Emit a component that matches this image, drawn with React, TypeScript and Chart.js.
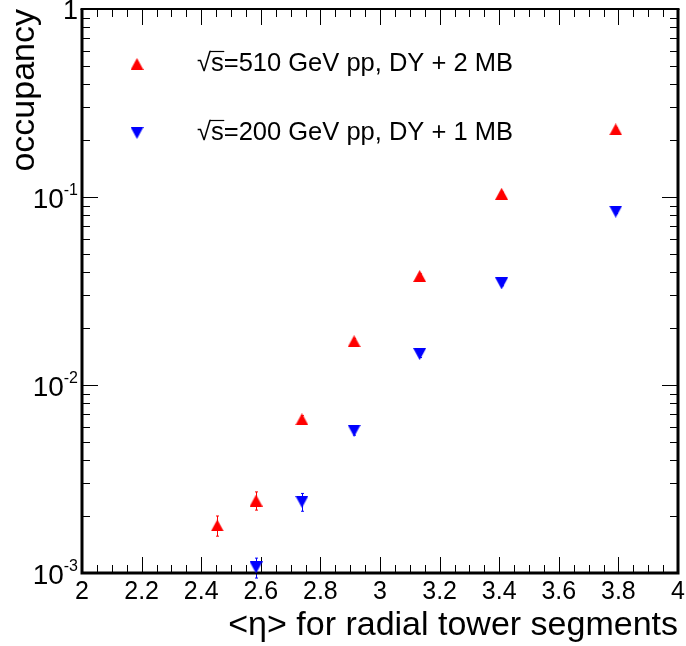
import React, { useEffect, useRef } from 'react';
import { Chart, registerables } from 'chart.js';

Chart.register(...registerables);

const FONT = '"Liberation Sans", Arial, Helvetica, sans-serif';

// ---- data ----
const redEta = [2.454, 2.584, 2.738, 2.913, 3.133, 3.408, 3.791];
const redOcc = [0.00179, 0.00243, 0.00657, 0.0171, 0.038, 0.104, 0.229];
const redErr = [0.00022, 0.00027, 0.0003, 0.0006, 0.001, 0.002, 0.004];

const blueEta = [2.584, 2.738, 2.913, 3.133, 3.408, 3.791];
const blueOcc = [0.00107, 0.00239, 0.00571, 0.0146, 0.0347, 0.0836];
const blueErr = [0.00013, 0.00026, 0.0003, 0.0006, 0.001, 0.002];

const seriesLabels = ['√s=510 GeV pp, DY + 2 MB', '√s=200 GeV pp, DY + 1 MB'];
const seriesColors = ['#ff0000', '#0000ff'];

const yDecades = [-3, -2, -1, 0];
const yMantissas = [2, 3, 4, 5, 6, 7, 8, 9];

const xTitle = '<η> for radial tower segments';
const yTitle = 'occupancy';

function makeTriangle(color: string, down: boolean): HTMLCanvasElement {
  const c = document.createElement('canvas');
  c.width = 13;
  c.height = 12;
  const g = c.getContext('2d')!;
  g.fillStyle = color;
  g.beginPath();
  if (down) {
    g.moveTo(0, 0);
    g.lineTo(13, 0);
    g.lineTo(6.5, 12);
  } else {
    g.moveTo(6.5, 0);
    g.lineTo(13, 12);
    g.lineTo(0, 12);
  }
  g.closePath();
  g.fill();
  return c;
}

const isMajorX = (v: number) => Math.abs(v * 5 - Math.round(v * 5)) < 1e-6;

const rootPlugin = {
  id: 'rootPlugin',
  beforeDatasetsDraw(chart: any) {
    const { ctx, chartArea: a, scales } = chart;
    const x = scales.x;
    const y = scales.y;
    ctx.save();

    // error bars
    chart.data.datasets.forEach((ds: any) => {
      ctx.strokeStyle = ds.errColor;
      ctx.lineWidth = 1;
      ds.data.forEach((p: any, i: number) => {
        const e = ds.errors[i];
        const px = Math.round(x.getPixelForValue(p.x)) + 0.5;
        const y1 = y.getPixelForValue(p.y + e);
        const y2 = y.getPixelForValue(Math.max(p.y - e, 1e-4));
        ctx.beginPath();
        ctx.moveTo(px, y1);
        ctx.lineTo(px, y2);
        ctx.moveTo(px - 1.5, y1);
        ctx.lineTo(px + 1.5, y1);
        ctx.moveTo(px - 1.5, y2);
        ctx.lineTo(px + 1.5, y2);
        ctx.stroke();
      });
    });

    // tick marks on all four sides (inward)
    ctx.strokeStyle = '#000';
    ctx.lineWidth = 1;
    ctx.beginPath();
    x.ticks.forEach((t: any) => {
      const px = Math.round(x.getPixelForValue(t.value)) + 0.5;
      const len = isMajorX(t.value) ? 16 : 8;
      ctx.moveTo(px, a.bottom);
      ctx.lineTo(px, a.bottom - len);
      ctx.moveTo(px, a.top);
      ctx.lineTo(px, a.top + len);
    });
    yDecades.forEach((d) => {
      const py = Math.round(y.getPixelForValue(Math.pow(10, d))) + 0.5;
      ctx.moveTo(a.left, py);
      ctx.lineTo(a.left + 16, py);
      ctx.moveTo(a.right, py);
      ctx.lineTo(a.right - 16, py);
      if (d < 0) {
        yMantissas.forEach((m) => {
          const pm = Math.round(y.getPixelForValue(m * Math.pow(10, d))) + 0.5;
          ctx.moveTo(a.left, pm);
          ctx.lineTo(a.left + 8, pm);
          ctx.moveTo(a.right, pm);
          ctx.lineTo(a.right - 8, pm);
        });
      }
    });
    ctx.stroke();

    // frame
    ctx.lineWidth = 3;
    ctx.beginPath();
    ctx.moveTo(a.left, a.top);
    ctx.lineTo(a.left, a.bottom);
    ctx.lineTo(a.right, a.bottom);
    ctx.lineTo(a.right, a.top);
    ctx.stroke();
    ctx.lineWidth = 2;
    ctx.beginPath();
    ctx.moveTo(a.left - 1.5, a.top);
    ctx.lineTo(a.right + 1.5, a.top);
    ctx.stroke();

    // y-axis decade labels with superscripts
    ctx.fillStyle = '#000';
    ctx.textBaseline = 'middle';
    yDecades.forEach((d) => {
      const py = y.getPixelForValue(Math.pow(10, d));
      const right = 78;
      if (d === 0) {
        ctx.font = `27px ${FONT}`;
        ctx.textAlign = 'right';
        ctx.fillText('1', right, py + 3);
      } else {
        const sup = String(d);
        ctx.font = `16px ${FONT}`;
        const wSup = ctx.measureText(sup).width;
        ctx.textAlign = 'left';
        ctx.fillText(sup, right - wSup, py - 6);
        ctx.font = `28px ${FONT}`;
        ctx.textAlign = 'right';
        ctx.fillText('10', right - wSup, py + 3);
      }
    });
    ctx.restore();
  },
  afterDatasetsDraw(chart: any) {
    const { ctx } = chart;
    ctx.save();
    const rows = [64, 133];
    chart.data.datasets.forEach((ds: any, i: number) => {
      const cy = rows[i];
      const img = ds.pointStyle as HTMLCanvasElement;
      ctx.drawImage(img, 137 - img.width / 2, cy - img.height / 2);
      ctx.font = `25.5px ${FONT}`;
      ctx.fillStyle = '#000';
      ctx.textAlign = 'left';
      ctx.textBaseline = 'middle';
      const label = seriesLabels[i];
      const tx = 197;
      ctx.fillText(label, tx, cy);
      // overline of the square root over "s"
      const wRoot = ctx.measureText('√').width;
      const wRootS = ctx.measureText('√s').width;
      ctx.strokeStyle = '#000';
      ctx.lineWidth = 1.2;
      ctx.beginPath();
      ctx.moveTo(tx + wRoot - 1, cy - 12.5);
      ctx.lineTo(tx + wRootS + 0.5, cy - 12.5);
      ctx.stroke();
    });
    ctx.restore();
  },
};

export default function App() {
  const ref = useRef<HTMLCanvasElement>(null);

  useEffect(() => {
    const redMarker = makeTriangle(seriesColors[0], false);
    const blueMarker = makeTriangle(seriesColors[1], true);

    const chart = new Chart(ref.current!, {
      type: 'scatter',
      data: {
        datasets: [
          {
            label: seriesLabels[0],
            data: redEta.map((e, i) => ({ x: e, y: redOcc[i] })),
            pointStyle: redMarker as any,
            pointRadius: 7,
            showLine: false,
            clip: false as any,
            errors: redErr,
            errColor: seriesColors[0],
          } as any,
          {
            label: seriesLabels[1],
            data: blueEta.map((e, i) => ({ x: e, y: blueOcc[i] })),
            pointStyle: blueMarker as any,
            pointRadius: 7,
            showLine: false,
            clip: false as any,
            errors: blueErr,
            errColor: seriesColors[1],
          } as any,
        ],
      },
      options: {
        animation: false,
        responsive: false,
        layout: { padding: { top: 9, right: 4, left: 0, bottom: 0 } },
        plugins: { legend: { display: false }, tooltip: { enabled: false } },
        scales: {
          x: {
            type: 'linear',
            min: 2,
            max: 4,
            grid: { display: false, drawTicks: false },
            border: { display: false },
            ticks: {
              stepSize: 0.05,
              autoSkip: false,
              maxRotation: 0,
              padding: 4,
              color: '#000',
              font: { family: FONT, size: 25 },
              callback: (v: any) => (isMajorX(v) ? String(+Number(v).toFixed(1)) : ''),
            },
            title: {
              display: true,
              text: xTitle,
              align: 'end',
              color: '#000',
              font: { family: FONT, size: 34 },
              padding: { top: 0, bottom: 0 },
            },
            afterFit: (s: any) => {
              s.height = 73;
              s.paddingLeft = 0;
              s.paddingRight = 0;
            },
          },
          y: {
            type: 'logarithmic',
            min: 0.001,
            max: 1,
            grid: { display: false, drawTicks: false },
            border: { display: false },
            ticks: { display: false },
            title: {
              display: true,
              text: yTitle,
              align: 'end',
              color: '#000',
              font: { family: FONT, size: 34 },
              padding: { top: 4, bottom: 0 },
            },
            afterFit: (s: any) => {
              s.width = 82;
              s.paddingTop = 0;
              s.paddingBottom = 0;
            },
          },
        },
      } as any,
      plugins: [rootPlugin],
    });
    return () => chart.destroy();
  }, []);

  return (
    <div style={{ position: 'fixed', left: 0, top: 0, width: 686, height: 646, background: '#fff' }}>
      <canvas ref={ref} width={686} height={646} style={{ display: 'block' }} />
    </div>
  );
}
